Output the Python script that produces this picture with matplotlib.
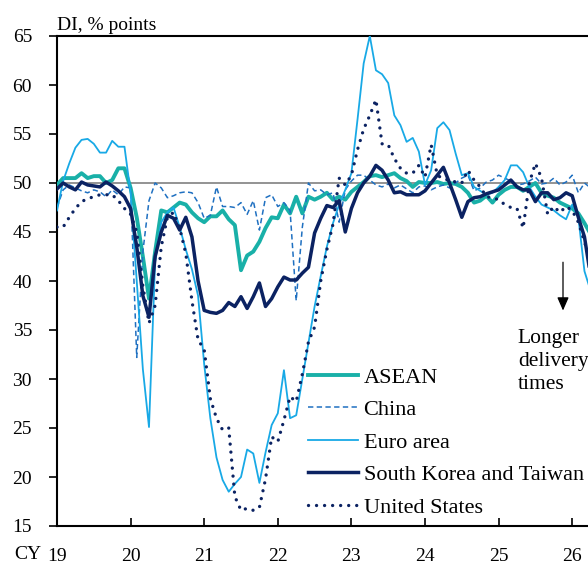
import numpy as np
import matplotlib
matplotlib.use('Agg')
from matplotlib import pyplot as plt

plt.rcParams['font.family'] = ['Liberation Serif', 'DejaVu Serif']

# monthly diffusion indices, Jan 2019 onwards
asean = [49.8, 50.5, 50.5, 50.5, 51.0, 50.5, 50.7, 50.7, 50.0, 50.3, 51.5, 51.5,
         49.5, 46.5, 42.5, 38.2, 43.0, 47.2, 47.0, 47.5, 48.0, 47.8, 47.0, 46.4,
         46.0, 46.6, 46.6, 47.2, 46.3, 45.7, 41.1, 42.6, 43.0, 44.0, 45.4, 46.5,
         46.4, 47.8, 46.9, 48.6, 46.9, 48.6, 48.3, 48.6, 49.0, 48.3, 48.6, 48.3,
         49.1, 49.6, 50.1, 50.7, 50.8, 50.6, 50.8, 51.0, 50.5, 50.2, 49.6, 50.1,
         50.0, 50.0, 50.1, 49.9, 50.0, 49.9, 49.6, 49.0, 48.0, 48.2, 48.7, 48.0,
         48.8, 49.3, 49.6, 49.6, 49.2, 49.6, 50.0, 49.0, 48.7, 48.5, 48.0, 47.7,
         47.4, 46.9, 45.9, 44.8]
china = [47.5, 49.3, 49.8, 49.5, 49.2, 49.0, 49.3, 49.1, 48.6, 49.3, 48.8, 49.6,
         49.5, 32.2, 43.0, 48.2, 50.0, 49.5, 48.5, 48.7, 49.0, 49.1, 49.0, 48.0,
         46.4, 46.7, 49.6, 47.6, 47.6, 47.5, 48.0, 46.8, 48.2, 45.2, 48.5, 48.8,
         47.6, 48.0, 47.2, 38.0, 45.5, 50.0, 49.2, 49.3, 48.8, 49.0, 46.0, 49.3,
         50.2, 50.8, 50.8, 50.3, 49.8, 49.6, 49.9, 49.5, 49.8, 49.4, 49.0, 49.6,
         49.7, 49.3, 49.6, 49.8, 49.5, 50.0, 50.5, 50.8, 49.2, 49.5, 50.1, 50.3,
         50.8, 50.5, 50.2, 49.8, 49.9, 50.2, 50.6, 49.9, 50.0, 50.5, 49.8, 50.1,
         50.8, 49.0, 50.0, 49.5]
euro = [47.2, 50.2, 52.0, 53.6, 54.4, 54.5, 54.0, 53.1, 53.1, 54.3, 53.7, 53.7,
        49.0, 40.0, 31.0, 25.1, 42.0, 46.0, 47.0, 47.5, 45.5, 43.2, 41.2, 38.5,
        31.5, 26.0, 22.0, 19.7, 18.5, 19.3, 20.0, 22.8, 22.4, 19.4, 22.5, 25.3,
        26.5, 30.9, 26.0, 26.3, 30.0, 33.7, 37.4, 40.5, 43.5, 45.9, 47.8, 49.3,
        51.0, 56.5, 62.2, 65.0, 61.5, 61.1, 60.2, 56.9, 55.9, 54.2, 54.6, 53.2,
        49.8, 51.3, 55.6, 56.2, 55.4, 53.0, 50.8, 51.0, 49.6, 49.2, 48.8, 49.0,
        49.6, 50.3, 51.8, 51.8, 51.1, 49.6, 48.6, 47.8, 47.5, 47.2, 46.7, 46.3,
        47.8, 46.5, 41.0, 39.0]
korea_taiwan = [49.4, 50.0, 49.6, 49.3, 50.1, 49.8, 49.7, 49.6, 50.1, 49.7, 49.2, 48.6,
                47.4, 43.5, 38.5, 36.3, 42.5, 45.0, 46.7, 46.4, 45.2, 46.5, 44.5, 40.0,
                37.0, 36.8, 36.7, 37.0, 37.8, 37.4, 38.4, 37.2, 38.4, 39.8, 37.4, 38.2,
                39.4, 40.4, 40.1, 40.1, 40.8, 41.4, 44.9, 46.4, 47.7, 47.5, 48.2, 45.0,
                47.4, 49.0, 50.0, 50.7, 51.8, 51.3, 50.3, 49.0, 49.1, 48.8, 48.8, 48.8,
                49.2, 50.0, 50.8, 51.6, 50.0, 48.3, 46.5, 48.1, 48.5, 48.6, 48.9, 49.1,
                49.3, 49.8, 50.3, 49.6, 49.3, 49.3, 48.1, 49.0, 49.0, 48.3, 48.5, 49.0,
                48.7, 46.5, 44.5, 40.5]
us = [45.5, 45.5, 46.5, 47.4, 48.1, 48.4, 48.6, 48.8, 48.8, 48.8, 48.2, 47.4,
      46.8, 45.0, 39.5, 35.7, 37.5, 43.5, 46.5, 47.0, 45.4, 42.8, 38.0, 34.0,
      33.0, 28.0, 26.0, 24.8, 25.0, 18.0, 16.6, 16.8, 16.6, 16.9, 19.8, 24.1,
      23.6, 25.8, 28.2, 27.7, 30.5, 33.8, 35.3, 40.0, 43.2, 45.8, 50.5, 49.8,
      50.8, 53.4, 55.5, 56.9, 58.5, 54.0, 53.9, 52.5, 51.5, 51.0, 51.0, 51.8,
      50.6, 53.9, 50.8, 50.4, 50.3, 50.1, 50.0, 51.3, 50.3, 49.6, 48.6, 48.5,
      48.3, 47.8, 47.5, 47.4, 45.4, 50.0, 52.0, 50.5, 46.8, 47.6, 47.0, 47.6,
      47.2, 46.0, 44.0, 42.0]

year_ticks = list(range(2019, 2027))
year_labels = ['19', '20', '21', '22', '23', '24', '25', '26']

t = 2019 + np.arange(len(asean)) / 12.0

fig = plt.figure(figsize=(5.88, 5.63), dpi=100)
ax = fig.add_axes([57 / 588, 37 / 563, 1 - 57 / 588, 490 / 563])

ax.axhline(50, color='#808080', lw=1.2, zorder=1)

ax.plot(t, asean, color='#19b0a8', lw=2.8, label='ASEAN', zorder=3)
ax.plot(t, china, color='#1f70c1', lw=1.1, ls=(0, (3.5, 2.2)), label='China', zorder=3)
ax.plot(t, euro, color='#18a9e6', lw=1.3, label='Euro area', zorder=3)
ax.plot(t, korea_taiwan, color='#0b2262', lw=2.5, label='South Korea and Taiwan', zorder=4)
ax.plot(t, us, color='#0b2262', lw=2.4, ls=(0, (0.01, 2.4)), dash_capstyle='round',
        label='United States', zorder=5)

ax.set_xlim(2019, 2019 + 531 / 73.6)
ax.set_ylim(15, 65)
ax.set_yticks(range(15, 70, 5))
ax.set_xticks(year_ticks)
ax.set_xticklabels(year_labels)

for s in ['left', 'bottom', 'top']:
    ax.spines[s].set_linewidth(1.5)
    ax.spines[s].set_color('black')
ax.spines['right'].set_visible(False)

ax.tick_params(axis='y', direction='out', length=6, width=1.2, labelsize=14, pad=12)
ax.tick_params(axis='x', direction='in', length=6, width=1.2, labelsize=14, pad=15.5)

ax.annotate('CY', xy=(0, 0), xycoords='axes fraction', xytext=(-11, -24),
            textcoords='offset points', ha='right', va='baseline', fontsize=14)
ax.text(0, 1.005, 'DI, % points', transform=ax.transAxes, ha='left', va='bottom', fontsize=14)

ax.annotate('', xy=(2025.875, 36.7), xytext=(2025.875, 42.2),
            arrowprops=dict(arrowstyle='-|>,head_length=0.8,head_width=0.35',
                            color='black', lw=0.9))
ax.text(2025.262, 35.1, 'Longer\ndelivery\ntimes', ha='left', va='top',
        fontsize=15.5, linespacing=1.28)

ax.legend(loc='upper left', bbox_to_anchor=(308 / 588, 1 - 367 / 563),
          bbox_transform=fig.transFigure, frameon=False, fontsize=16,
          handlelength=2.25, handletextpad=0.25, labelspacing=0.54,
          borderpad=0, borderaxespad=0)

plt.savefig('out.png', dpi=100)
